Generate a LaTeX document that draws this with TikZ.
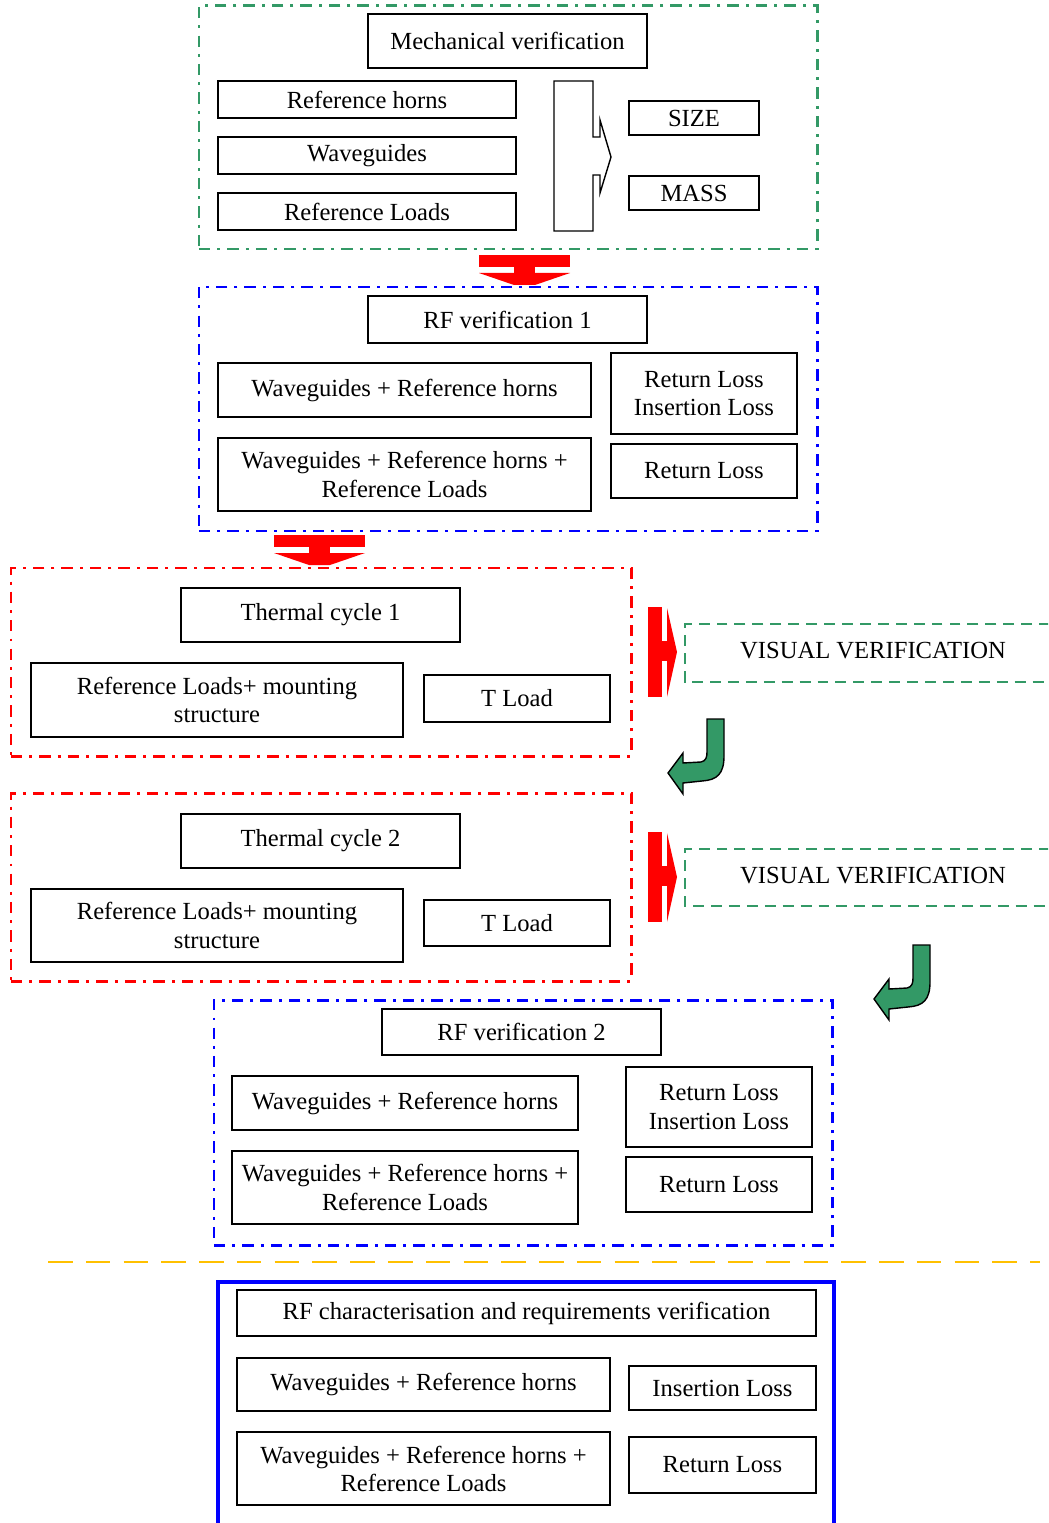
\documentclass[tikz,border=0pt]{standalone}
\usepackage{fontspec}
\setmainfont{Liberation Serif}
\usetikzlibrary{fit}
\definecolor{frgreen}{RGB}{51,153,102}
\definecolor{frblue}{RGB}{0,0,255}
\definecolor{frred}{RGB}{255,0,0}
\definecolor{sepyellow}{RGB}{255,192,0}

\tikzset{
  box/.style={draw=black, line width=0.8pt, inner sep=0pt, align=center,
    font=\fontsize{14}{16}\selectfont},
  sz/.style 2 args={minimum width=#1*0.02cm, minimum height=#2*0.02cm},
  frame/.style={draw=#1, line width=1.7pt, inner sep=0pt,
    dash pattern=on 6.5pt off 4pt on 1.7pt off 4pt},
  visframe/.style={draw=frgreen, line width=1.4pt, dash pattern=on 6.2pt off 4pt},
  vistext/.style={font=\fontsize{14}{16}\selectfont},
  redarrow/.style={fill=frred},
  greenarrow/.style={fill=frgreen, draw=black, line width=0.8pt},
}

\begin{document}
\begin{tikzpicture}[x=0.02cm, y=-0.02cm]
        \useasboundingbox (0,0) rectangle (1048,1523);
        \clip (0,0) rectangle (1048,1523);

        % arrow anchors
        \coordinate (down1) at (524.5,255);
        \coordinate (down2) at (319.5,535);
        \coordinate (right1) at (648,607);
        \coordinate (right2) at (648,832);
        \coordinate (turn1) at (707,719);
        \coordinate (turn2) at (913,945);
        \coordinate (merge) at (554,81);

        % mechanical verification
        \node[frame=frgreen, fit={(199,6) (817,249)}] (mechframe) {};
        \node[box, sz={279}{54}] (mech) at (507.5,41) {Mechanical verification};
        \node[box, sz={298}{37}] (refhorns) at (367,99.5) {Reference horns};
        \node[box, sz={298}{37}] (waveg) at (367,155.5) {Waveguides};
        \node[box, sz={298}{37}] (refloads) at (367,211.5) {Reference Loads};
        \node[box, sz={130}{34}] (size) at (694,118) {SIZE};
        \node[box, sz={130}{34}] (mass) at (694,193) {MASS};
        \draw[fill=white, line width=0.8pt, shift={(merge)}]
          (0,0) -- (39,0) -- (39,56) -- (46,56) -- (46,39) -- (57,76)
          -- (46,112) -- (46,94) -- (39,94) -- (39,150) -- (0,150) -- cycle;

        % RF verification 1
        \node[frame=frblue, fit={(199,287) (817,531)}] (rfframe1) {};
        \node[box, sz={279}{47}] (rfver1) at (507.5,319.5) {RF verification 1};
        \node[box, sz={373}{54}] (wgrh1) at (404.5,390) {Waveguides + Reference horns};
        \node[box, sz={186}{81}] (rlil1) at (704,393.5) {Return Loss\\Insertion Loss};
        \node[box, sz={373}{73}] (wgrl1) at (404.5,474.5) {Waveguides + Reference horns +\\Reference Loads};
        \node[box, sz={186}{54}] (rl1) at (704,471) {Return Loss};

        % thermal cycles
        \node[frame=frred, fit={(11,568) (631,756)}] (thframe1) {};
        \node[box, sz={279}{54}] (therm1) at (320.5,615) {Thermal cycle 1};
        \node[box, sz={372}{74}] (mount1) at (217,700) {Reference Loads+ mounting\\structure};
        \node[box, sz={186}{47}] (tload1) at (517,698.5) {T Load};

        \node[frame=frred, fit={(11,793) (631,981)}] (thframe2) {};
        \node[box, sz={279}{54}] (therm2) at (320.5,841) {Thermal cycle 2};
        \node[box, sz={372}{73}] (mount2) at (217,925.5) {Reference Loads+ mounting\\structure};
        \node[box, sz={186}{46}] (tload2) at (517,923) {T Load};

        % visual verification
        \draw[visframe] (1050,624) -- (685,624) -- (685,682) -- (1050,682);
        \node[vistext] (vis1) at (873,651) {VISUAL VERIFICATION};
        \draw[visframe] (1050,849) -- (685,849) -- (685,906) -- (1050,906);
        \node[vistext] (vis2) at (873,876) {VISUAL VERIFICATION};

        % RF verification 2
        \node[frame=frblue, fit={(214,1000) (832,1245)}] (rfframe2) {};
        \node[box, sz={279}{46}] (rfver2) at (521.5,1032) {RF verification 2};
        \node[box, sz={346}{54}] (wgrh2) at (405,1103) {Waveguides + Reference horns};
        \node[box, sz={186}{80}] (rlil2) at (719,1107) {Return Loss\\Insertion Loss};
        \node[box, sz={346}{73}] (wgrl2) at (405,1187.5) {Waveguides + Reference horns +\\Reference Loads};
        \node[box, sz={186}{55}] (rl2) at (719,1184.5) {Return Loss};

        \draw[sepyellow, line width=1.5pt, dash pattern=on 14pt off 7.5pt] (48,1262) -- (1040,1262);

        % RF characterisation
        \draw[frblue, line width=2.3pt] (218,1530) -- (218,1282) -- (834,1282) -- (834,1530);
        \node[box, sz={579}{46}] (rfchar) at (526.5,1313) {RF characterisation and requirements verification};
        \node[box, sz={373}{53}] (wgrh3) at (423.5,1384.5) {Waveguides + Reference horns};
        \node[box, sz={187}{44}] (il3) at (722.5,1388) {Insertion Loss};
        \node[box, sz={373}{73}] (wgrl3) at (423.5,1468.5) {Waveguides + Reference horns +\\Reference Loads};
        \node[box, sz={187}{56}] (rl3) at (722.5,1465) {Return Loss};

        % red block arrows
        \foreach \a in {down1,down2} {
          \fill[redarrow, shift={(\a)}] (-45.5,0) rectangle (45.5,12);
          \fill[redarrow, shift={(\a)}] (-10.5,11) rectangle (10.5,19);
          \fill[redarrow, shift={(\a)}] (-45.5,18) -- (45.5,18) -- (10.5,30) -- (-10.5,30) -- cycle;
        }
        \foreach \a in {right1,right2} {
          \fill[redarrow, shift={(\a)}] (0,0) rectangle (14,90);
          \fill[redarrow, shift={(\a)}] (13,34) rectangle (20,54);
          \fill[redarrow, shift={(\a)}] (19,1) -- (29,45) -- (19,90) -- cycle;
        }

        % green turn arrows
        \foreach \a in {turn1,turn2} {
          \draw[greenarrow, shift={(\a)}] (0,0) -- (17,0) -- (17,37)
            .. controls (17,55) and (10,61) .. (-5,62) -- (-24,64) -- (-24,75)
            -- (-39,54) -- (-24,34) -- (-24,44) -- (-6,43)
            .. controls (-1,42) and (0,38) .. (0,33) -- cycle;
        }
    \end{tikzpicture}
\end{document}
